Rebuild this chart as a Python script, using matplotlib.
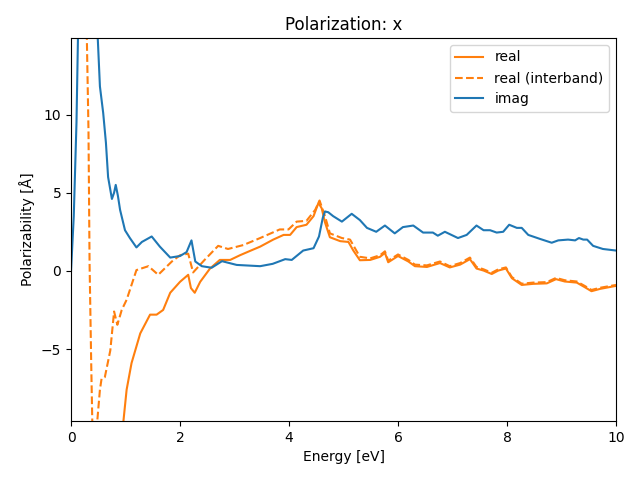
import numpy as np
import matplotlib
matplotlib.use('Agg')
import matplotlib.pyplot as plt

# energies [eV] and values
E_imag = [0.0, 0.05, 0.1, 0.13, 0.2, 0.3, 0.42, 0.49, 0.53, 0.59, 0.64, 0.68, 0.75, 0.79, 0.82, 0.86, 0.9, 0.99,
          1.08, 1.2, 1.3, 1.48, 1.63, 1.82, 2.0, 2.12, 2.21, 2.28, 2.4, 2.58, 2.77, 3.04, 3.47,
          3.7, 3.93, 4.05, 4.26, 4.45, 4.55, 4.62, 4.66, 4.72, 4.81, 4.97, 5.15, 5.3, 5.43, 5.6, 5.76, 5.94,
          6.09, 6.28, 6.46, 6.64, 6.73, 6.86, 7.1, 7.26, 7.44, 7.57, 7.69, 7.81, 7.93, 8.04,
          8.18, 8.27, 8.39, 8.6, 8.82, 8.94, 9.12, 9.25, 9.32, 9.4, 9.47, 9.58, 9.76, 10.0]
imag = [0.0, 3.5, 9.5, 15.5, 22, 25, 20, 14.9, 11.8, 10.1, 8.2, 6.0, 4.6, 5.0, 5.5, 4.8, 3.9, 2.6,
        2.1, 1.5, 1.85, 2.2, 1.55, 0.85, 0.95, 1.2, 1.95, 0.6, 0.3, 0.2, 0.62, 0.38, 0.3,
        0.45, 0.75, 0.7, 1.3, 1.45, 2.2, 3.4, 3.8, 3.75, 3.5, 3.15, 3.65, 3.25, 2.75, 2.5, 2.9, 2.4,
        2.8, 2.9, 2.45, 2.45, 2.25, 2.5, 2.1, 2.3, 2.9, 2.6, 2.6, 2.45, 2.5, 2.95,
        2.75, 2.75, 2.3, 2.05, 1.8, 1.95, 2.0, 1.95, 2.1, 2.0, 2.0, 1.6, 1.4, 1.3]

E_real = [0.0, 0.5, 0.8, 0.96, 1.02, 1.11, 1.27, 1.45, 1.57, 1.69, 1.82, 2.0, 2.15, 2.2,
          2.27, 2.37, 2.55, 2.73, 2.92, 3.1, 3.3, 3.47, 3.71, 3.9, 4.02, 4.14, 4.32, 4.45,
          4.54, 4.6, 4.66, 4.75, 4.94, 5.09, 5.18, 5.3, 5.49, 5.67, 5.76, 5.82, 6.0, 6.19,
          6.31, 6.53, 6.77, 6.95, 7.14, 7.32, 7.44, 7.57, 7.72, 7.84, 7.98, 8.09, 8.27,
          8.48, 8.73, 8.9, 9.06, 9.28, 9.43, 9.55, 9.71, 10.0]
real = [-200, -40, -15, -9.65, -7.6, -5.9, -4.0, -2.8, -2.8, -2.5, -1.4, -0.7, -0.25, -1.1,
        -1.4, -0.7, 0.15, 0.7, 0.7, 1.0, 1.3, 1.55, 2.0, 2.3, 2.3, 2.8, 2.95, 3.5,
        4.35, 4.0, 3.1, 2.15, 1.9, 1.85, 1.3, 0.68, 0.7, 0.9, 1.15, 0.55, 0.95, 0.6,
        0.3, 0.25, 0.5, 0.22, 0.4, 0.75, 0.15, 0.02, -0.2, 0.02, 0.15, -0.47, -0.9,
        -0.83, -0.8, -0.53, -0.68, -0.75, -1.05, -1.3, -1.15, -0.96]

E_inter = [0.0, 0.2, 0.29, 0.32, 0.34, 0.37, 0.39, 0.43, 0.48, 0.53, 0.56, 0.62, 0.72, 0.79,
           0.85, 0.93, 1.02, 1.2, 1.42, 1.6, 1.85, 2.0, 2.15, 2.24, 2.45, 2.7, 2.88, 3.16,
           3.47, 3.83, 3.99, 4.14, 4.32, 4.48, 4.56, 4.66, 4.75, 4.97, 5.12, 5.3, 5.49, 5.67,
           5.76, 5.82, 6.0, 6.19, 6.31, 6.53, 6.77, 6.95, 7.14, 7.32, 7.44, 7.57, 7.72, 7.84,
           7.98, 8.09, 8.27, 8.48, 8.73, 8.9, 9.06, 9.28, 9.43, 9.55, 9.71, 10.0]
inter = [28, 22, 14.9, 9.0, 0.5, -5.9, -9.65, -13, -9.65, -7.6, -6.9, -6.8, -5.1, -2.6,
         -3.45, -2.5, -1.85, 0.05, 0.3, -0.25, 0.6, 1.0, 1.1, -0.1, 0.7, 1.6, 1.4, 1.65,
         2.1, 2.65, 2.65, 3.15, 3.2, 3.9, 4.5, 3.5, 2.4, 2.1, 2.0, 0.9, 0.8, 1.0,
         1.25, 0.65, 1.05, 0.7, 0.4, 0.35, 0.6, 0.3, 0.5, 0.85, 0.25, 0.1, -0.12, 0.1,
         0.22, -0.4, -0.82, -0.75, -0.72, -0.45, -0.6, -0.68, -0.97, -1.22, -1.08, -0.9]

fig, ax = plt.subplots(figsize=(6.4, 4.8), dpi=100)

ax.plot(E_real, real, color='C1', label='real')
ax.plot(E_inter, inter, color='C1', linestyle='--', label='real (interband)')
ax.plot(E_imag, imag, color='C0', label='imag')

ax.set_xlim(0, 10)
ax.set_ylim(-9.6, 14.9)
ax.set_xlabel('Energy [eV]')
ax.set_ylabel('Polarizability [Å]')
ax.set_title('Polarization: x')
ax.legend(loc='upper right')

fig.subplots_adjust(left=0.111, right=0.9625, top=0.921, bottom=0.123)
plt.savefig('out.png')
